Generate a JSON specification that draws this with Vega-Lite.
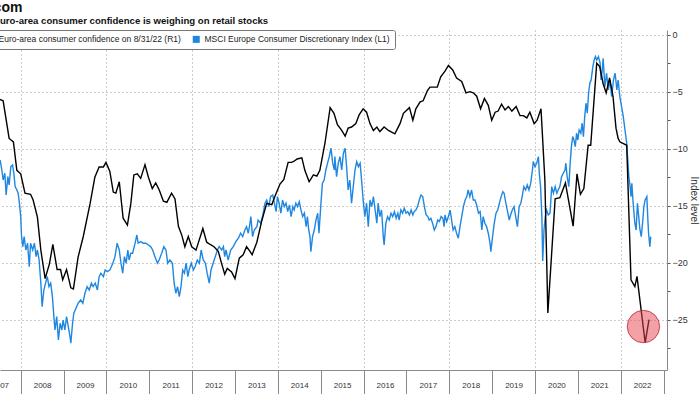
{
  "$schema": "https://vega.github.io/schema/vega-lite/v6.json",
  "width": 667,
  "height": 340,
  "autosize": {"type": "none"},
  "padding": {"left": 0, "top": 30, "right": 33, "bottom": 24},
  "background": "white",
  "config": {
    "view": {"stroke": null},
    "font": "Liberation Sans"
  },
  "title": {
    "text": "com",
    "subtitle": "Euro-area consumer confidence is weighing on retail stocks",
    "anchor": "start",
    "frame": "group",
    "dx": -6.4,
    "font": "Liberation Sans",
    "fontSize": 14,
    "fontWeight": "bold",
    "color": "#111111",
    "subtitleFont": "Liberation Sans",
    "subtitleFontSize": 9.6,
    "subtitleFontWeight": "bold",
    "subtitleColor": "#111111",
    "subtitlePadding": 1,
    "offset": 4
  },
  "datasets": {
    "msci": [
      {"t":2007.52,"v":155},{"t":2007.56,"v":150},{"t":2007.59,"v":145},{"t":2007.63,"v":148.4},{"t":2007.66,"v":137.5},{"t":2007.70,"v":146.7},{"t":2007.73,"v":142.5},{"t":2007.77,"v":151.7},{"t":2007.81,"v":152.5},{"t":2007.84,"v":148.4},{"t":2007.87,"v":141.7},{"t":2007.91,"v":140},{"t":2007.94,"v":138.4},{"t":2007.97,"v":133.4},
      {"t":2008.00,"v":126.7},{"t":2008.02,"v":116.7},{"t":2008.05,"v":111.7},{"t":2008.08,"v":116.7},{"t":2008.12,"v":110},{"t":2008.16,"v":113.4},{"t":2008.20,"v":101.7},{"t":2008.23,"v":113.4},{"t":2008.28,"v":110},{"t":2008.32,"v":113.4},{"t":2008.36,"v":106.7},{"t":2008.39,"v":110},{"t":2008.43,"v":105},{"t":2008.47,"v":93.4},{"t":2008.50,"v":81.7},{"t":2008.54,"v":90},{"t":2008.58,"v":93.4},{"t":2008.62,"v":96.7},{"t":2008.66,"v":91.7},{"t":2008.70,"v":93.4},{"t":2008.74,"v":86.7},{"t":2008.78,"v":75},{"t":2008.80,"v":70},{"t":2008.84,"v":76.7},{"t":2008.88,"v":65},{"t":2008.92,"v":73.4},{"t":2008.96,"v":70},{"t":2008.99,"v":75},
      {"t":2009.03,"v":70},{"t":2009.07,"v":76.7},{"t":2009.11,"v":71.7},{"t":2009.15,"v":66.7},{"t":2009.17,"v":63.4},{"t":2009.21,"v":73.4},{"t":2009.24,"v":78.4},{"t":2009.29,"v":80.9},{"t":2009.34,"v":83.4},{"t":2009.40,"v":85},{"t":2009.45,"v":83.4},{"t":2009.50,"v":88.4},{"t":2009.55,"v":91.7},{"t":2009.60,"v":90},{"t":2009.65,"v":93.4},{"t":2009.69,"v":91.7},{"t":2009.74,"v":93.4},{"t":2009.79,"v":90},{"t":2009.83,"v":96.7},{"t":2009.87,"v":98.4},{"t":2009.93,"v":96.7},{"t":2009.97,"v":100},
      {"t":2010.02,"v":99.2},{"t":2010.08,"v":100},{"t":2010.15,"v":103.4},{"t":2010.20,"v":106.7},{"t":2010.25,"v":113.4},{"t":2010.30,"v":110},{"t":2010.34,"v":103.4},{"t":2010.38,"v":98.4},{"t":2010.42,"v":106.7},{"t":2010.46,"v":103.4},{"t":2010.50,"v":110},{"t":2010.53,"v":105},{"t":2010.57,"v":108.4},{"t":2010.61,"v":108.4},{"t":2010.67,"v":113.4},{"t":2010.71,"v":117.5},{"t":2010.74,"v":113.4},{"t":2010.80,"v":114.2},{"t":2010.86,"v":113.4},{"t":2010.92,"v":113.4},{"t":2010.98,"v":112.5},
      {"t":2011.03,"v":111.7},{"t":2011.08,"v":110},{"t":2011.13,"v":106.7},{"t":2011.19,"v":103.4},{"t":2011.23,"v":105},{"t":2011.29,"v":108.4},{"t":2011.34,"v":111.7},{"t":2011.39,"v":110},{"t":2011.43,"v":103.4},{"t":2011.48,"v":105},{"t":2011.54,"v":103.4},{"t":2011.58,"v":93.4},{"t":2011.62,"v":88.4},{"t":2011.66,"v":91.7},{"t":2011.70,"v":86.7},{"t":2011.74,"v":91.7},{"t":2011.78,"v":100},{"t":2011.82,"v":98.4},{"t":2011.86,"v":103.4},{"t":2011.90,"v":96.7},{"t":2011.93,"v":100},{"t":2011.98,"v":103.4},
      {"t":2012.03,"v":100},{"t":2012.07,"v":101.7},{"t":2012.12,"v":105},{"t":2012.17,"v":103.4},{"t":2012.21,"v":110},{"t":2012.26,"v":105},{"t":2012.31,"v":103.4},{"t":2012.35,"v":98.4},{"t":2012.40,"v":93.4},{"t":2012.44,"v":100},{"t":2012.49,"v":103.4},{"t":2012.54,"v":106.7},{"t":2012.59,"v":110},{"t":2012.63,"v":111.7},{"t":2012.69,"v":110},{"t":2012.73,"v":111.7},{"t":2012.76,"v":106.7},{"t":2012.79,"v":110},{"t":2012.84,"v":105},{"t":2012.90,"v":110},{"t":2012.96,"v":111.7},
      {"t":2013.02,"v":114.2},{"t":2013.08,"v":115.9},{"t":2013.13,"v":118.4},{"t":2013.18,"v":116.7},{"t":2013.23,"v":120},{"t":2013.27,"v":121.7},{"t":2013.31,"v":118.4},{"t":2013.35,"v":123.4},{"t":2013.37,"v":126.7},{"t":2013.41,"v":116.7},{"t":2013.45,"v":120},{"t":2013.51,"v":121.7},{"t":2013.54,"v":125},{"t":2013.60,"v":123.4},{"t":2013.65,"v":127.5},{"t":2013.70,"v":133.4},{"t":2013.74,"v":135},{"t":2013.79,"v":131.7},{"t":2013.83,"v":136.7},{"t":2013.88,"v":137.5},{"t":2013.92,"v":133.4},{"t":2013.96,"v":129.2},{"t":2013.99,"v":136.7},
      {"t":2014.03,"v":133.4},{"t":2014.07,"v":128.4},{"t":2014.11,"v":135},{"t":2014.15,"v":131.7},{"t":2014.19,"v":133.4},{"t":2014.23,"v":129.2},{"t":2014.27,"v":132.5},{"t":2014.31,"v":126.7},{"t":2014.35,"v":131.7},{"t":2014.38,"v":130},{"t":2014.42,"v":133.4},{"t":2014.46,"v":131.7},{"t":2014.50,"v":134.2},{"t":2014.54,"v":130},{"t":2014.58,"v":126.7},{"t":2014.62,"v":128.4},{"t":2014.66,"v":121.7},{"t":2014.69,"v":126.7},{"t":2014.72,"v":120},{"t":2014.75,"v":116.7},{"t":2014.77,"v":109.2},{"t":2014.81,"v":116.7},{"t":2014.85,"v":120},{"t":2014.89,"v":125},{"t":2014.93,"v":128.4},{"t":2014.96,"v":118.4},
      {"t":2015.00,"v":131.7},{"t":2015.04,"v":143.4},{"t":2015.08,"v":145},{"t":2015.12,"v":150},{"t":2015.16,"v":153.4},{"t":2015.20,"v":156.7},{"t":2015.24,"v":160.9},{"t":2015.28,"v":153.4},{"t":2015.32,"v":150},{"t":2015.33,"v":156.7},{"t":2015.37,"v":146.7},{"t":2015.41,"v":153.4},{"t":2015.45,"v":156.7},{"t":2015.49,"v":150},{"t":2015.53,"v":158.4},{"t":2015.57,"v":160.9},{"t":2015.61,"v":150},{"t":2015.64,"v":140},{"t":2015.68,"v":145},{"t":2015.72,"v":133.4},{"t":2015.76,"v":141.7},{"t":2015.80,"v":150},{"t":2015.84,"v":154.2},{"t":2015.88,"v":151.7},{"t":2015.92,"v":153.4},{"t":2015.96,"v":143.4},{"t":2015.99,"v":135},
      {"t":2016.03,"v":126.7},{"t":2016.07,"v":133.4},{"t":2016.11,"v":121.7},{"t":2016.15,"v":135},{"t":2016.19,"v":131.7},{"t":2016.23,"v":136.7},{"t":2016.27,"v":130},{"t":2016.31,"v":123.4},{"t":2016.34,"v":133.4},{"t":2016.38,"v":126.7},{"t":2016.42,"v":130},{"t":2016.46,"v":116.7},{"t":2016.48,"v":112.5},{"t":2016.52,"v":123.4},{"t":2016.56,"v":126.7},{"t":2016.60,"v":125},{"t":2016.64,"v":128.4},{"t":2016.68,"v":126.7},{"t":2016.72,"v":129.2},{"t":2016.76,"v":125.9},{"t":2016.80,"v":128.4},{"t":2016.83,"v":125},{"t":2016.87,"v":130},{"t":2016.91,"v":128.4},{"t":2016.95,"v":130.9},{"t":2016.99,"v":128.4},
      {"t":2017.03,"v":129.2},{"t":2017.07,"v":127.5},{"t":2017.11,"v":130},{"t":2017.15,"v":127.5},{"t":2017.18,"v":129.2},{"t":2017.22,"v":130},{"t":2017.26,"v":131.7},{"t":2017.30,"v":135},{"t":2017.34,"v":137.5},{"t":2017.38,"v":136.7},{"t":2017.42,"v":131.7},{"t":2017.46,"v":127.5},{"t":2017.50,"v":126.7},{"t":2017.53,"v":125},{"t":2017.57,"v":125.9},{"t":2017.61,"v":123.4},{"t":2017.65,"v":120},{"t":2017.69,"v":121.7},{"t":2017.73,"v":125},{"t":2017.77,"v":124.2},{"t":2017.81,"v":126.7},{"t":2017.85,"v":125.9},{"t":2017.88,"v":121.7},{"t":2017.90,"v":127.5},{"t":2017.94,"v":124.2},{"t":2017.98,"v":126.7},
      {"t":2018.02,"v":130},{"t":2018.06,"v":124.2},{"t":2018.09,"v":120},{"t":2018.13,"v":121.7},{"t":2018.17,"v":118.4},{"t":2018.21,"v":115.9},{"t":2018.25,"v":121.7},{"t":2018.29,"v":126.7},{"t":2018.33,"v":131.7},{"t":2018.37,"v":135},{"t":2018.41,"v":136.7},{"t":2018.44,"v":140},{"t":2018.48,"v":136.7},{"t":2018.52,"v":140},{"t":2018.56,"v":135},{"t":2018.60,"v":135},{"t":2018.64,"v":132.5},{"t":2018.68,"v":128.4},{"t":2018.72,"v":129.2},{"t":2018.76,"v":120},{"t":2018.79,"v":126.7},{"t":2018.83,"v":123.4},{"t":2018.87,"v":121.7},{"t":2018.91,"v":118.4},{"t":2018.95,"v":113.4},{"t":2018.97,"v":109.2},
      {"t":2019.01,"v":116.7},{"t":2019.05,"v":123.4},{"t":2019.09,"v":128.4},{"t":2019.13,"v":130},{"t":2019.17,"v":133.4},{"t":2019.21,"v":136.7},{"t":2019.25,"v":139.2},{"t":2019.28,"v":138.4},{"t":2019.32,"v":133.4},{"t":2019.36,"v":129.2},{"t":2019.40,"v":125},{"t":2019.43,"v":127.5},{"t":2019.47,"v":130},{"t":2019.51,"v":131.7},{"t":2019.55,"v":126.7},{"t":2019.59,"v":121.7},{"t":2019.63,"v":131.7},{"t":2019.67,"v":133.4},{"t":2019.70,"v":136.7},{"t":2019.74,"v":141.7},{"t":2019.78,"v":140},{"t":2019.82,"v":142.5},{"t":2019.86,"v":140},{"t":2019.90,"v":143.4},{"t":2019.94,"v":150},{"t":2019.96,"v":154.2},
      {"t":2020.00,"v":151.7},{"t":2020.04,"v":153.4},{"t":2020.08,"v":156.7},{"t":2020.10,"v":148.4},{"t":2020.13,"v":141.7},{"t":2020.16,"v":126.7},{"t":2020.18,"v":104.5},{"t":2020.21,"v":120},{"t":2020.24,"v":126.7},{"t":2020.27,"v":130},{"t":2020.31,"v":127.5},{"t":2020.35,"v":128.4},{"t":2020.39,"v":141.7},{"t":2020.43,"v":138.4},{"t":2020.47,"v":141.7},{"t":2020.51,"v":138.4},{"t":2020.54,"v":140},{"t":2020.58,"v":141.7},{"t":2020.62,"v":146.7},{"t":2020.66,"v":148.4},{"t":2020.70,"v":150},{"t":2020.72,"v":153.4},{"t":2020.75,"v":146.7},{"t":2020.79,"v":141.7},{"t":2020.82,"v":153.4},{"t":2020.85,"v":161.7},{"t":2020.88,"v":166.7},{"t":2020.91,"v":165},{"t":2020.94,"v":161.7},{"t":2020.97,"v":168.4},
      {"t":2021.00,"v":165},{"t":2021.03,"v":170},{"t":2021.07,"v":168.4},{"t":2021.10,"v":173.4},{"t":2021.13,"v":166.7},{"t":2021.16,"v":176.7},{"t":2021.19,"v":183.4},{"t":2021.22,"v":178.4},{"t":2021.25,"v":188.4},{"t":2021.28,"v":193.4},{"t":2021.31,"v":195},{"t":2021.35,"v":201.7},{"t":2021.38,"v":205},{"t":2021.41,"v":206.7},{"t":2021.44,"v":205},{"t":2021.48,"v":206.7},{"t":2021.52,"v":203.4},{"t":2021.54,"v":195},{"t":2021.57,"v":200},{"t":2021.59,"v":205.9},{"t":2021.63,"v":191.7},{"t":2021.67,"v":198.4},{"t":2021.71,"v":190},{"t":2021.75,"v":195},{"t":2021.79,"v":186.7},{"t":2021.83,"v":195},{"t":2021.87,"v":198.4},{"t":2021.91,"v":190},{"t":2021.94,"v":195},{"t":2021.98,"v":186.7},
      {"t":2022.02,"v":181.7},{"t":2022.06,"v":176.7},{"t":2022.10,"v":170},{"t":2022.14,"v":163.4},{"t":2022.16,"v":156.7},{"t":2022.19,"v":146.7},{"t":2022.22,"v":141.7},{"t":2022.24,"v":136.7},{"t":2022.26,"v":143.4},{"t":2022.29,"v":133.4},{"t":2022.33,"v":123.4},{"t":2022.36,"v":120},{"t":2022.39,"v":133.4},{"t":2022.42,"v":126.7},{"t":2022.45,"v":120},{"t":2022.48,"v":116.7},{"t":2022.51,"v":123.4},{"t":2022.54,"v":131.7},{"t":2022.57,"v":135},{"t":2022.61,"v":136.7},{"t":2022.63,"v":126.7},{"t":2022.65,"v":118.4},{"t":2022.68,"v":111.7},{"t":2022.70,"v":116.7}
    ],
    "confidence": [
      {"t":2007.45,"v":-5.6},{"t":2007.59,"v":-5.8},{"t":2007.73,"v":-9.1},{"t":2007.83,"v":-9.4},{"t":2007.91,"v":-11.9},{"t":2008.00,"v":-12.2},{"t":2008.10,"v":-13.9},{"t":2008.23,"v":-14.0},{"t":2008.29,"v":-14.5},{"t":2008.39,"v":-16.0},{"t":2008.47,"v":-18.9},{"t":2008.57,"v":-21.4},{"t":2008.67,"v":-20.1},{"t":2008.75,"v":-18.4},{"t":2008.85,"v":-20.6},{"t":2008.93,"v":-20.6},{"t":2008.98,"v":-21.5},
      {"t":2009.07,"v":-20.6},{"t":2009.17,"v":-22.2},{"t":2009.23,"v":-22.3},{"t":2009.34,"v":-19.5},{"t":2009.46,"v":-17.7},{"t":2009.62,"v":-14.8},{"t":2009.73,"v":-12.5},{"t":2009.83,"v":-11.6},{"t":2009.93,"v":-11.6},{"t":2009.99,"v":-11.2},
      {"t":2010.08,"v":-12.0},{"t":2010.16,"v":-13.8},{"t":2010.22,"v":-13.9},{"t":2010.30,"v":-12.9},{"t":2010.39,"v":-16.1},{"t":2010.49,"v":-16.7},{"t":2010.57,"v":-14.8},{"t":2010.64,"v":-12.3},{"t":2010.72,"v":-12.2},{"t":2010.80,"v":-12.6},{"t":2010.90,"v":-11.4},{"t":2010.98,"v":-12.5},
      {"t":2011.07,"v":-13.5},{"t":2011.15,"v":-13.0},{"t":2011.23,"v":-13.6},{"t":2011.33,"v":-14.6},{"t":2011.41,"v":-14.7},{"t":2011.52,"v":-13.9},{"t":2011.60,"v":-14.4},{"t":2011.68,"v":-16.8},{"t":2011.76,"v":-17.6},{"t":2011.83,"v":-18.6},{"t":2011.91,"v":-17.7},{"t":2011.99,"v":-18.6},
      {"t":2012.09,"v":-18.9},{"t":2012.25,"v":-17.0},{"t":2012.34,"v":-18.2},{"t":2012.42,"v":-18.4},{"t":2012.51,"v":-18.6},{"t":2012.61,"v":-19.0},{"t":2012.69,"v":-20.1},{"t":2012.76,"v":-21.0},{"t":2012.82,"v":-20.5},{"t":2012.92,"v":-20.8},
      {"t":2013.00,"v":-21.4},{"t":2013.10,"v":-19.6},{"t":2013.19,"v":-19.3},{"t":2013.27,"v":-18.6},{"t":2013.35,"v":-19.0},{"t":2013.40,"v":-19.3},{"t":2013.51,"v":-18.2},{"t":2013.62,"v":-16.4},{"t":2013.74,"v":-14.8},{"t":2013.86,"v":-14.9},{"t":2013.93,"v":-14.2},
      {"t":2014.05,"v":-13.1},{"t":2014.14,"v":-12.7},{"t":2014.24,"v":-11.2},{"t":2014.32,"v":-11.2},{"t":2014.38,"v":-11.1},{"t":2014.45,"v":-10.9},{"t":2014.56,"v":-10.8},{"t":2014.63,"v":-11.9},{"t":2014.73,"v":-12.9},{"t":2014.83,"v":-12.3},{"t":2014.91,"v":-12.4},{"t":2014.98,"v":-11.9},
      {"t":2015.10,"v":-9.5},{"t":2015.22,"v":-6.4},{"t":2015.31,"v":-6.9},{"t":2015.39,"v":-7.9},{"t":2015.49,"v":-8.4},{"t":2015.57,"v":-8.9},{"t":2015.64,"v":-8.2},{"t":2015.72,"v":-8.1},{"t":2015.82,"v":-7.8},{"t":2015.90,"v":-7.0},{"t":2015.99,"v":-6.5},
      {"t":2016.07,"v":-6.8},{"t":2016.15,"v":-7.8},{"t":2016.23,"v":-8.4},{"t":2016.31,"v":-8.1},{"t":2016.38,"v":-8.5},{"t":2016.48,"v":-8.1},{"t":2016.58,"v":-8.4},{"t":2016.73,"v":-8.7},{"t":2016.85,"v":-7.8},{"t":2016.93,"v":-6.9},
      {"t":2017.07,"v":-6.4},{"t":2017.15,"v":-7.5},{"t":2017.22,"v":-6.5},{"t":2017.32,"v":-5.9},{"t":2017.39,"v":-5.8},{"t":2017.49,"v":-4.9},{"t":2017.55,"v":-4.6},{"t":2017.72,"v":-4.6},{"t":2017.80,"v":-3.7},{"t":2017.90,"v":-3.2},{"t":2017.98,"v":-2.7},
      {"t":2018.08,"v":-3.1},{"t":2018.17,"v":-3.8},{"t":2018.29,"v":-4.1},{"t":2018.39,"v":-5.1},{"t":2018.48,"v":-5.0},{"t":2018.56,"v":-5.1},{"t":2018.64,"v":-5.4},{"t":2018.73,"v":-6.5},{"t":2018.82,"v":-5.6},{"t":2018.91,"v":-6.2},{"t":2018.99,"v":-7.5},
      {"t":2019.07,"v":-6.8},{"t":2019.14,"v":-6.7},{"t":2019.22,"v":-6.1},{"t":2019.30,"v":-6.6},{"t":2019.38,"v":-6.3},{"t":2019.46,"v":-6.7},{"t":2019.56,"v":-6.3},{"t":2019.65,"v":-7.1},{"t":2019.73,"v":-7.1},{"t":2019.81,"v":-7.3},{"t":2019.88,"v":-6.8},{"t":2019.98,"v":-7.8},
      {"t":2020.05,"v":-7.5},{"t":2020.14,"v":-6.5},{"t":2020.23,"v":-12.7},{"t":2020.30,"v":-24.4},{"t":2020.47,"v":-14.4},{"t":2020.58,"v":-14.3},{"t":2020.71,"v":-13.0},{"t":2020.89,"v":-16.8},{"t":2020.98,"v":-12.2},
      {"t":2021.06,"v":-14.0},{"t":2021.14,"v":-13.5},{"t":2021.24,"v":-9.7},{"t":2021.30,"v":-9.7},{"t":2021.44,"v":-2.5},{"t":2021.51,"v":-2.8},{"t":2021.59,"v":-4.3},{"t":2021.66,"v":-5.1},{"t":2021.74,"v":-3.8},{"t":2021.82,"v":-5.4},{"t":2021.89,"v":-8.2},{"t":2021.94,"v":-9.1},{"t":2021.98,"v":-9.4},
      {"t":2022.14,"v":-9.7},{"t":2022.24,"v":-21.5},{"t":2022.33,"v":-22.1},{"t":2022.38,"v":-21.2},{"t":2022.57,"v":-27.0},{"t":2022.66,"v":-25.0}
    ],
    "highlight": [
      {"t": 2022.53, "v": -25.6}
    ]
  },
  "layer": [
    {
      "data": {"name": "msci"},
      "mark": {"type": "line", "strokeWidth": 1.4, "clip": true, "interpolate": "linear"},
      "encoding": {
        "x": {
          "field": "t",
          "type": "quantitative",
          "scale": {"domain": [2007.517, 2023.08], "nice": false, "zero": false},
          "axis": null
        },
        "y": {
          "field": "v",
          "type": "quantitative",
          "scale": {"domain": [50, 220], "nice": false, "zero": false},
          "axis": null
        },
        "color": {
          "datum": "MSCI Europe Consumer Discretionary Index (L1)",
          "type": "nominal",
          "scale": {
            "domain": ["Euro-area consumer confidence on 8/31/22 (R1)", "MSCI Europe Consumer Discretionary Index (L1)"],
            "range": ["#000000", "#1f87e0"]
          },
          "legend": {
            "title": null,
            "orient": "none",
            "legendX": -19,
            "legendY": 0,
            "direction": "horizontal",
            "columns": 2,
            "fillColor": "white",
            "strokeColor": "#777777",
            "padding": 5,
            "cornerRadius": 2,
            "columnPadding": 11,
            "labelOffset": 4,
            "labelLimit": 400,
            "labelFont": "Liberation Sans",
            "labelFontSize": 8.5,
            "labelColor": "#222222",
            "symbolType": "square",
            "symbolSize": 49,
            "symbolStrokeWidth": 0,
            "encode": {
              "symbols": {"update": {"fill": {"scale": "color", "field": "value"}, "strokeWidth": {"value": 0}}}
            }
          }
        }
      }
    },
    {
      "data": {"name": "confidence"},
      "mark": {"type": "line", "strokeWidth": 1.4, "clip": true, "interpolate": "linear"},
      "encoding": {
        "x": {
          "field": "t",
          "type": "quantitative",
          "scale": {"domain": [2007.517, 2023.08], "nice": false, "zero": false},
          "axis": {
            "title": null,
            "orient": "bottom",
            "values": [2008,2009,2010,2011,2012,2013,2014,2015,2016,2017,2018,2019,2020,2021,2022,2023],
            "format": "d",
            "labelExpr": "datum.value >= 2023 ? '' : datum.label",
            "labelOffset": 21.4,
            "labelAlign": "center",
            "labelFlush": false,
            "labelBound": false,
            "labelOverlap": false,
            "labelFont": "Liberation Sans",
            "labelFontSize": 8,
            "labelColor": "#333333",
            "labelPadding": -12.5,
            "ticks": true,
            "tickSize": 24,
            "tickColor": "#8a8a8a",
            "tickWidth": 1,
            "domain": true,
            "domainColor": "#8a8a8a",
            "domainWidth": 1,
            "grid": true,
            "gridColor": "#9a9a9a",
            "gridDash": [1, 3],
            "gridWidth": 1,
            "gridOpacity": {"condition": {"test": "datum.value % 2 !== 0", "value": 0}, "value": 1}
          }
        },
        "y": {
          "field": "v",
          "type": "quantitative",
          "scale": {"domain": [-29.41, 0.41], "nice": false, "zero": false},
          "axis": {
            "orient": "right",
            "title": "Index level",
            "titleFont": "Liberation Sans",
            "titleFontSize": 10,
            "titleFontWeight": "normal",
            "titleColor": "#333333",
            "titlePadding": 1,
            "values": [0, -2.5, -5, -7.5, -10, -12.5, -15, -17.5, -20, -22.5, -25, -27.5],
            "labelExpr": "datum.value % 5 === 0 ? datum.label : ''",
            "labelFont": "Liberation Sans",
            "labelFontSize": 9,
            "labelColor": "#333333",
            "labelPadding": 2,
            "labelFlush": false,
            "labelOverlap": false,
            "tickSize": 3,
            "tickColor": "#555555",
            "domain": true,
            "domainColor": "#8a8a8a",
            "grid": true,
            "gridColor": "#9a9a9a",
            "gridDash": [1, 3],
            "gridOpacity": {"condition": {"test": "datum.value % 5 !== 0", "value": 0}, "value": 1}
          }
        },
        "color": {"datum": "Euro-area consumer confidence on 8/31/22 (R1)", "type": "nominal"}
      }
    },
    {
      "data": {"name": "highlight"},
      "mark": {"type": "point", "shape": "circle", "filled": true, "size": 1050, "fill": "#e8414f", "fillOpacity": 0.5, "stroke": "#b8283a", "strokeWidth": 1, "strokeOpacity": 0.8},
      "encoding": {
        "x": {
          "field": "t",
          "type": "quantitative",
          "scale": {"domain": [2007.517, 2023.08], "nice": false, "zero": false},
          "axis": {
            "title": null,
            "orient": "bottom",
            "values": [2007.52],
            "labelExpr": "'2007'",
            "labelOffset": -0.5,
            "labelAlign": "center",
            "labelFlush": false,
            "labelBound": false,
            "labelOverlap": false,
            "labelFont": "Liberation Sans",
            "labelFontSize": 8,
            "labelColor": "#333333",
            "labelPadding": -12.5,
            "ticks": true,
            "tickSize": 24,
            "tickOpacity": 0,
            "domain": false,
            "grid": false,
            "offset": 0
          }
        },
        "y": {
          "field": "v",
          "type": "quantitative",
          "scale": {"domain": [-29.41, 0.41], "nice": false, "zero": false},
          "axis": null
        }
      }
    }
  ],
  "resolve": {"scale": {"y": "independent"}, "axis": {"x": "independent"}}
}
